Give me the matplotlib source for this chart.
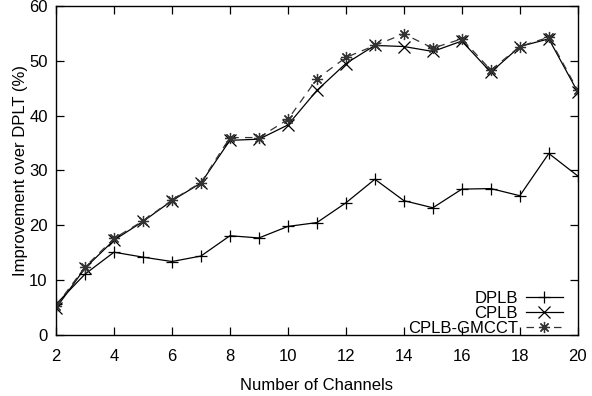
import matplotlib
matplotlib.use("Agg")
import matplotlib.pyplot as plt

# Data
channels = list(range(2, 21))
dplb = [5.6, 11.1, 15.1, 14.2, 13.4, 14.4, 18.1, 17.7, 19.8, 20.5,
        24.1, 28.4, 24.5, 23.2, 26.6, 26.7, 25.4, 33.1, 29.0]
cplb = [4.9, 12.2, 17.3, 20.7, 24.5, 27.7, 35.5, 35.7, 38.3, 44.6,
        49.5, 52.8, 52.6, 51.7, 53.6, 47.9, 52.6, 54.0, 44.3]
cplb_gmcct = [5.3, 12.4, 17.6, 20.8, 24.6, 27.8, 36.0, 36.0, 39.3, 46.7,
              50.6, 52.8, 54.9, 52.3, 54.0, 48.3, 52.6, 54.3, 44.6]

xticks = list(range(2, 21, 2))
yticks = list(range(0, 61, 10))

plt.rcParams['font.family'] = ['Liberation Sans', 'DejaVu Sans']
plt.rcParams['font.size'] = 12

fig = plt.figure(figsize=(5.92, 3.96), dpi=100)
ax = fig.add_axes([0.0946, 0.154, 0.8814, 0.831])

ax.plot(channels, dplb, color="black", lw=0.9, marker="+", ms=8, mew=0.9, label="DPLB")
ax.plot(channels, cplb, color="black", lw=0.9, marker="x", ms=8, mew=0.9, label="CPLB")
ax.plot(channels, cplb_gmcct, color="#333333", lw=0.9, ls=(0, (6, 5)), marker=(8, 2, 0),
        ms=8, mew=0.9, label="CPLB-GMCCT")

ax.set_xlim(2, 20)
ax.set_ylim(0, 60)
ax.set_xticks(xticks)
ax.set_yticks(yticks)
ax.tick_params(direction="in", length=6, width=0.9, top=True, right=True)
ax.tick_params(axis="x", pad=10)
ax.tick_params(axis="y", pad=6)
for s in ax.spines.values():
    s.set_linewidth(1.0)

ax.set_xlabel("Number of Channels", labelpad=10)
ax.set_ylabel("Improvement over DPLT (%)", labelpad=1)

ax.legend(loc="lower right", bbox_to_anchor=(571 / 592, (396 - 344) / 396),
          bbox_transform=fig.transFigure, frameon=False, markerfirst=False,
          borderpad=0, labelspacing=0.0, handlelength=2.2, handletextpad=0.5,
          fontsize=12)

fig.savefig("out.png", dpi=100)
